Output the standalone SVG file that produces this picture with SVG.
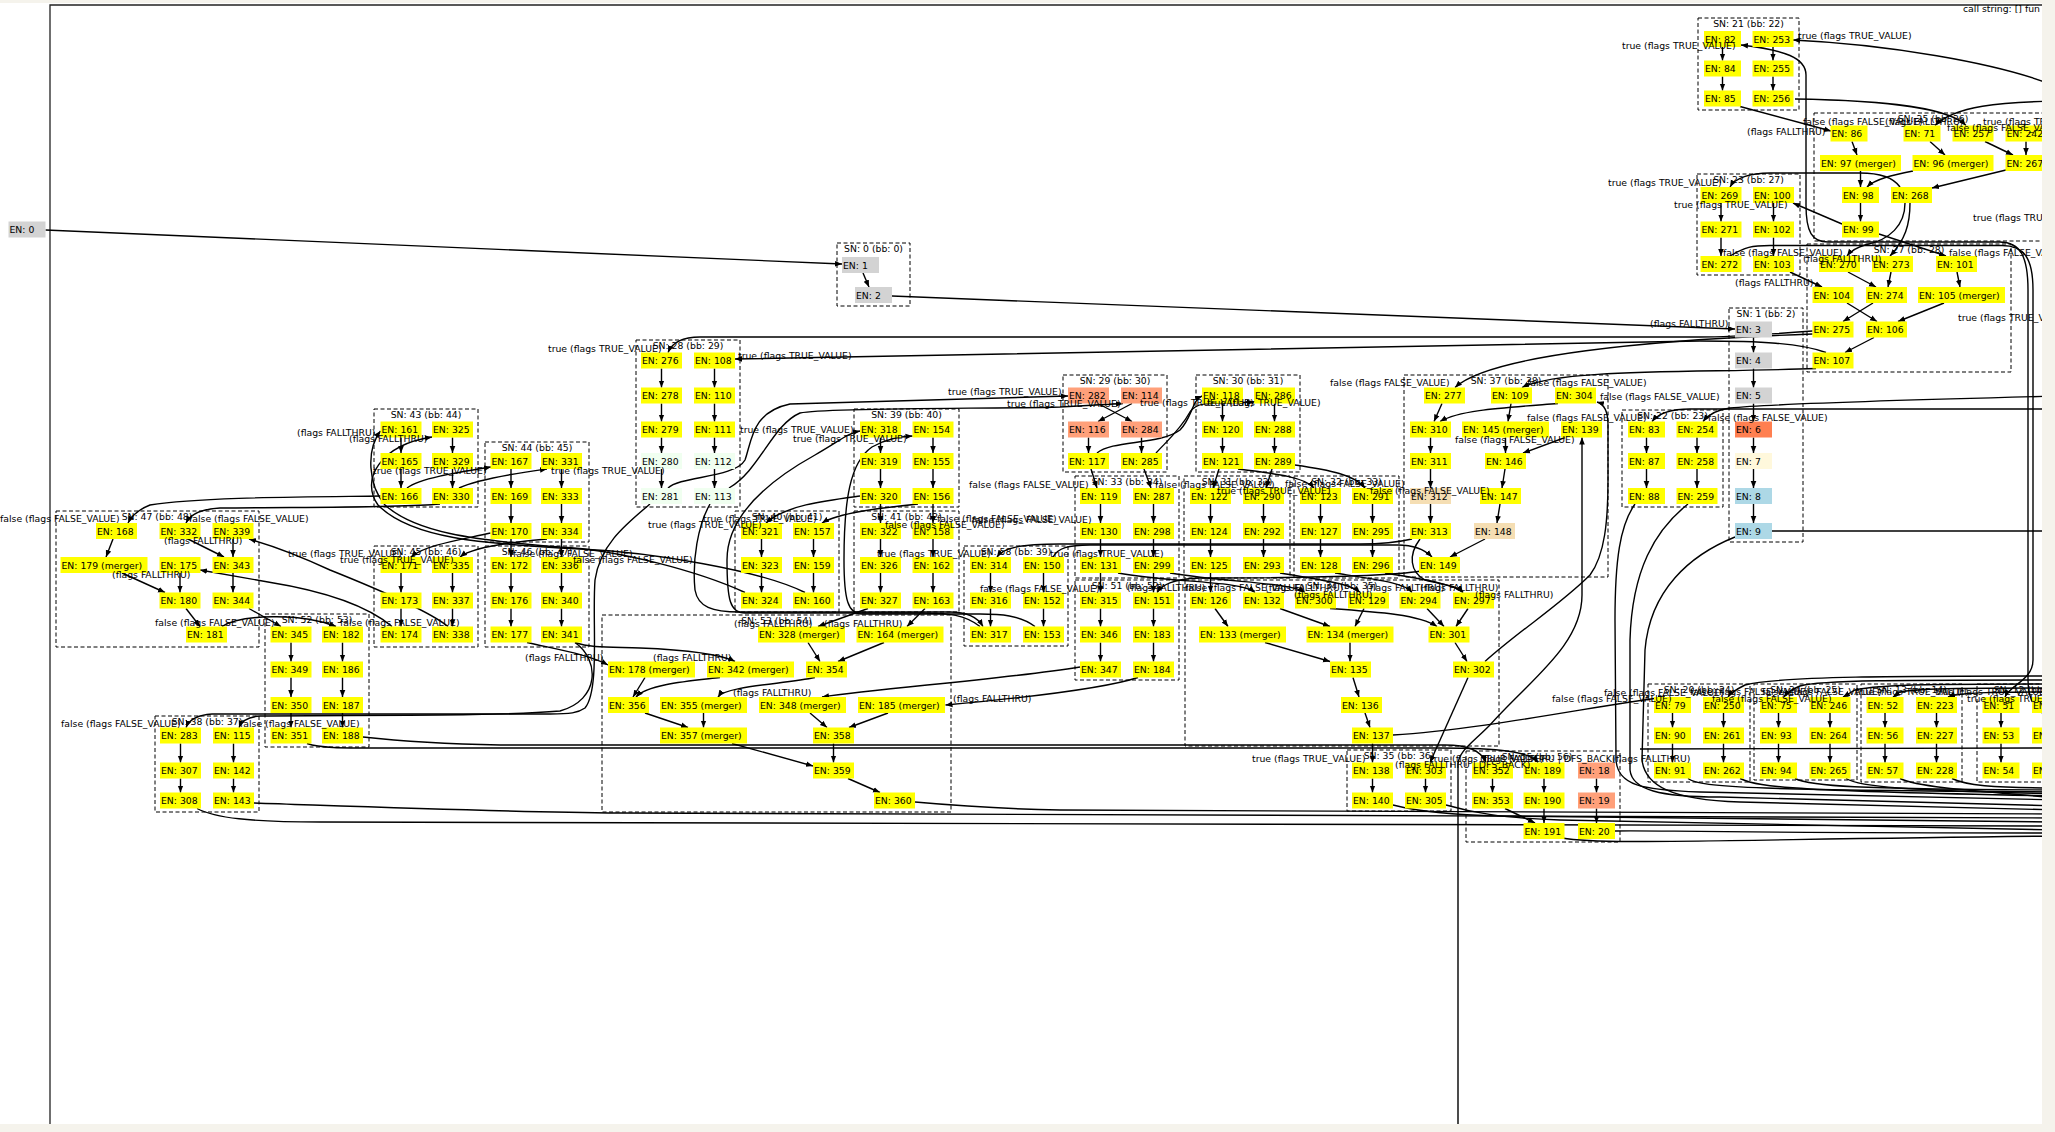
<svg xmlns="http://www.w3.org/2000/svg" width="2055" height="1132" viewBox="0 0 2055 1132">
<defs>
<marker id="a" viewBox="0 0 10 10" refX="10" refY="5" markerWidth="7" markerHeight="7" markerUnits="userSpaceOnUse" orient="auto"><path d="M0,1 L10,5 L0,9 z" fill="#000"/></marker>
<style>
text{font-family:"DejaVu Sans",Verdana,sans-serif;font-size:9.3px;fill:#000}
.cl{fill:none;stroke:#000;stroke-width:1;stroke-dasharray:4,2.5}
.ct{text-anchor:middle}
.y{fill:#ffff00}.g{fill:#d3d3d3}.c{fill:#ff7f50}.s{fill:#ffa07a}.w{fill:#f5deb3}.h{fill:#f0fff0}.k{fill:#fff8dc}.b{fill:#add8e6}
#edges path{fill:none;stroke:#000;stroke-width:1.4;marker-end:url(#a)}
#edges path.n{marker-end:none}
</style>
</defs>
<rect width="2055" height="1132" fill="#f5f3ec"/>
<rect x="0" y="3" width="2042" height="1121" fill="#fff"/>
<path d="M50,1124 L50,5 L2050,5" fill="none" stroke="#222" stroke-width="1.3"/>
<text x="1963" y="12">call string: [] fun</text>

<g id="clusters">
<g id="c0"><rect class="cl" x="837" y="243" width="73" height="63"/><text class="ct" x="873.5" y="251.5">SN: 0 (bb: 0)</text></g>
<g id="c1"><rect class="cl" x="1729" y="308" width="74" height="234"/><text class="ct" x="1766" y="316.5">SN: 1 (bb: 2)</text></g>
<g id="c21"><rect class="cl" x="1698" y="18" width="101" height="92"/><text class="ct" x="1748.5" y="26.5">SN: 21 (bb: 22)</text></g>
<g id="c25"><rect class="cl" x="1814" y="113" width="260" height="128"/><text class="ct" x="1933" y="121.5">SN: 25 (bb: 26)</text></g>
<g id="c23"><rect class="cl" x="1697" y="174" width="103" height="101"/><text class="ct" x="1748.5" y="182.5">SN: 23 (bb: 27)</text></g>
<g id="c27"><rect class="cl" x="1807" y="244" width="204" height="128"/><text class="ct" x="1909" y="252.5">SN: 27 (bb: 28)</text></g>
<g id="c22"><rect class="cl" x="1622" y="410" width="101" height="97"/><text class="ct" x="1672.5" y="418.5">SN: 22 (bb: 23)</text></g>
<g id="c37"><rect class="cl" x="1404" y="375" width="204" height="202"/><text class="ct" x="1506" y="383.5">SN: 37 (bb: 38)</text></g>
<g id="c29"><rect class="cl" x="1063" y="375" width="104" height="97"/><text class="ct" x="1115" y="383.5">SN: 29 (bb: 30)</text></g>
<g id="c30"><rect class="cl" x="1196" y="375" width="104" height="97"/><text class="ct" x="1248" y="383.5">SN: 30 (bb: 31)</text></g>
<g id="c33"><rect class="cl" x="1075" y="476" width="104" height="102"/><text class="ct" x="1127" y="484.5">SN: 33 (bb: 34)</text></g>
<g id="c31"><rect class="cl" x="1184" y="476" width="106" height="102"/><text class="ct" x="1237" y="484.5">SN: 31 (bb: 32)</text></g>
<g id="c32"><rect class="cl" x="1294" y="476" width="105" height="102"/><text class="ct" x="1346.5" y="484.5">SN: 32 (bb: 33)</text></g>
<g id="c51"><rect class="cl" x="1075" y="580" width="104" height="100"/><text class="ct" x="1127" y="588.5">SN: 51 (bb: 52)</text></g>
<g id="c34"><rect class="cl" x="1185" y="580" width="314" height="166"/><text class="ct" x="1342" y="588.5">SN: 34 (bb: 35)</text></g>
<g id="c35"><rect class="cl" x="1347" y="750" width="104" height="61"/><text class="ct" x="1399" y="758.5">SN: 35 (bb: 36)</text></g>
<g id="c55"><rect class="cl" x="1466" y="751" width="154" height="91"/><text class="ct" x="1537" y="759.5">SN: 55 (bb: 56)</text></g>
<g id="cbr1"><rect class="cl" x="1648" y="684" width="102" height="98"/><text class="ct" x="1699" y="692.5">SN: 20 (bb: 24)</text></g>
<g id="cbr2"><rect class="cl" x="1754" y="684" width="103" height="96"/><text class="ct" x="1805.5" y="692.5">SN: 24 (bb: 25)</text></g>
<g id="cbr3"><rect class="cl" x="1861" y="684" width="101" height="98"/><text class="ct" x="1911.5" y="692.5">SN: 13 (bb: 14)</text></g>
<g id="cbr4"><rect class="cl" x="1977" y="684" width="100" height="98"/><text class="ct" x="2029" y="692.5">SN: 12 (bb: 13)</text></g>
<g id="c28"><rect class="cl" x="636" y="340" width="104" height="167"/><text class="ct" x="688" y="348.5">SN: 28 (bb: 29)</text></g>
<g id="c39"><rect class="cl" x="854" y="409" width="105" height="98"/><text class="ct" x="906.5" y="417.5">SN: 39 (bb: 40)</text></g>
<g id="c40"><rect class="cl" x="735" y="511" width="104" height="101"/><text class="ct" x="787" y="519.5">SN: 40 (bb: 41)</text></g>
<g id="c41"><rect class="cl" x="854" y="511" width="105" height="101"/><text class="ct" x="906.5" y="519.5">SN: 41 (bb: 42)</text></g>
<g id="c58"><rect class="cl" x="964" y="546" width="104" height="100"/><text class="ct" x="1016" y="554.5">SN: 58 (bb: 39)</text></g>
<g id="c53"><rect class="cl" x="602" y="615" width="349" height="197"/><text class="ct" x="776.5" y="623.5">SN: 53 (bb: 54)</text></g>
<g id="c43"><rect class="cl" x="374" y="409" width="104" height="98"/><text class="ct" x="426" y="417.5">SN: 43 (bb: 44)</text></g>
<g id="c44"><rect class="cl" x="485" y="442" width="104" height="100"/><text class="ct" x="537" y="450.5">SN: 44 (bb: 45)</text></g>
<g id="c45"><rect class="cl" x="374" y="546" width="104" height="101"/><text class="ct" x="426" y="554.5">SN: 45 (bb: 46)</text></g>
<g id="c46"><rect class="cl" x="485" y="546" width="104" height="101"/><text class="ct" x="537" y="554.5">SN: 46 (bb: 47)</text></g>
<g id="c47"><rect class="cl" x="56" y="511" width="203" height="136"/><text class="ct" x="157" y="519.5">SN: 47 (bb: 48)</text></g>
<g id="c52"><rect class="cl" x="265" y="614" width="104" height="133"/><text class="ct" x="317" y="622.5">SN: 52 (bb: 53)</text></g>
<g id="c38"><rect class="cl" x="155" y="716" width="104" height="96"/><text class="ct" x="207" y="724.5">SN: 38 (bb: 37)</text></g>
</g>

<g id="edges">
<path d="M45.5,230 L842,264"/>
<path d="M863,273 L869,287"/>
<path d="M892,296 L1735,329"/>
<path d="M1753.5,337.5 L1753.5,352.5"/><path d="M1753.5,368.5 L1753.5,387.5"/><path d="M1753.5,403.5 L1753.5,421.5"/><path d="M1753.5,437.5 L1753.5,453"/><path d="M1753.5,469 L1753.5,488"/><path d="M1753.5,504 L1753.5,523"/>
<path d="M1722.5,47 L1722.5,60.5"/><path d="M1722.5,76.5 L1722.5,90.5"/><path d="M1773,47 L1773,60.5"/><path d="M1773,76.5 L1773,90.5"/>
<path d="M1721,203 L1721,221.5"/><path d="M1721,237.5 L1721,256"/><path d="M1773.5,203 L1773.5,221.5"/><path d="M1773.5,237.5 L1773.5,256"/>
<path d="M1740,106.5 L1831,131"/>
<path d="M1795,99 C1860,100 1945,104 1966,125.5"/>
<path d="M2060,101 C2000,102 1955,106 1935,125.5"/>
<path d="M2060,88 C2000,62 1880,44 1793,40"/>
<path d="M2060,720 C2035,715 2028,700 2028,680 L2028,290 C2028,256 2020,242 2000,242 L1828,242 C1812,242 1806,232 1806,205 L1806,75 C1806,58 1785,50 1741,45"/>
<path d="M1730,256 C1745,247 1752,245.5 1770,245.5 L2002,245.5 C2024,245.5 2033,258 2033,290 L2033,660 C2033,680 2010,685 2005,697"/>
<path d="M1852,141.5 L1857,155"/><path d="M1930,141.5 L1945,155"/><path d="M1985,141.5 L2013,155"/><path d="M2026,141.5 L2026,155"/>
<path d="M1860.5,171 L1860.5,187"/>
<path d="M1913,171 C1893,175 1875,179 1867,187"/>
<path d="M2006,170 L1932,188"/>
<path d="M1900,187 C1893,177 1880,173 1860,173 L1770,173 C1750,173 1735,178 1730,187"/>
<path d="M1910,203 C1910,225 1905,240 1890,256"/>
<path d="M1905,203 C1905,225 1890,240 1865,245 C1855,248 1850,252 1847,256"/>
<path d="M1860.5,203 L1860.5,221.5"/>
<path d="M1842,224 L1793,203"/>
<path d="M1879,234 L1946,256"/>
<path d="M1790,272 L1822,287"/><path d="M1848,272 L1876,287"/><path d="M1891,272 L1888,287"/><path d="M1957,272 L1960,287"/>
<path d="M1847,303 L1877,321.5"/><path d="M1873,303 L1843,321.5"/><path d="M1944,303 L1898,321.5"/><path d="M1874,337.5 L1845,352.5"/>
<path d="M1812.5,331 C1760,335 1730,337 1700,337 L700,337 C682,337 672,343 668,352.5"/>
<path d="M1826,352.5 C1800,343 1760,341 1700,341 L735,359"/>
<path d="M1812.5,334 C1650,340 1490,355 1455,387.5"/>
<path d="M1816,368.5 C1700,373 1560,368 1522,387.5"/>
<path d="M1646.5,437.5 L1646.5,453"/><path d="M1646.5,469 L1646.5,488"/><path d="M1697,437.5 L1697,453"/><path d="M1697,469 L1697,488"/>
<path d="M2060,396 C1900,400 1760,405 1730,408 C1715,410 1708,415 1703,421.5"/>
<path d="M2060,409 L1690,409 C1670,409 1658,414 1652,421.5"/>
<path d="M1772,531 L2060,531"/>
<path d="M1442,403.5 L1434,421.5"/>
<path d="M1558,403.5 C1500,408 1460,410 1440,421.5"/>
<path d="M1511,403.5 L1508,421.5"/>
<path d="M1565,437.5 L1523,453"/>
<path d="M1505.5,437.5 L1505.5,453"/>
<path d="M1505,469 L1502,488"/><path d="M1500,504 L1497,523"/><path d="M1485,539 L1450,557"/>
<path d="M1430.5,437.5 L1430.5,453"/><path d="M1430.5,469 L1430.5,488"/><path d="M1430.5,504 L1430.5,523"/>
<path d="M1053,557 C1058,548 1068,545 1090,545 L1398,545 C1415,545 1425,550 1432,557"/>
<path d="M1412,539 C1395,543 1380,544 1360,544 L1060,544 C1020,544 1003,548 997,557"/>
<path d="M1421,571 C1390,576 1300,578 1200,578 C1172,579 1162,585 1157,592.5"/>
<path d="M1420,539 C1408,555 1410,572 1425,580 C1445,585 1458,586 1463,592.5"/>
<path d="M1098,403.5 L1132,421.5"/><path d="M1132,403.5 L1098,421.5"/>
<path d="M1088.5,437.5 L1088.5,453"/><path d="M1141.5,437.5 L1141.5,453"/>
<path d="M668,488 C680,476 735,478 745,460 C752,440 752,412 790,404 L1068,396"/>
<path d="M729,488 C760,470 772,425 800,413 C830,407 1000,409 1060,407 L1123,403.5"/>
<path d="M1097,453 C1112,440 1160,445 1180,430 C1192,418 1192,400 1202,396"/>
<path d="M1156,453 C1168,440 1180,430 1190,412 C1198,400 1215,404 1254,402"/>
<path d="M1091,469 L1097,488"/><path d="M1144,469 L1151,488"/>
<path d="M1222.5,403.5 L1222.5,421.5"/><path d="M1222.5,437.5 L1222.5,453"/><path d="M1274.5,403.5 L1274.5,421.5"/><path d="M1274.5,437.5 L1274.5,453"/>
<path d="M1219,469 L1213,488"/>
<path d="M1238,469 C1280,474 1306,478 1314,488"/>
<path d="M1272,469 L1266,488"/>
<path d="M1295,465 C1330,470 1355,475 1365,488"/>
<path d="M1100.5,504 L1100.5,523"/><path d="M1100.5,539 L1100.5,557"/><path d="M1153.5,504 L1153.5,523"/><path d="M1153.5,539 L1153.5,557"/>
<path d="M1210.5,504 L1210.5,523"/><path d="M1210.5,539 L1210.5,557"/><path d="M1263.5,504 L1263.5,523"/><path d="M1263.5,539 L1263.5,557"/>
<path d="M1320.5,504 L1320.5,523"/><path d="M1320.5,539 L1320.5,557"/><path d="M1372.5,504 L1372.5,523"/><path d="M1372.5,539 L1372.5,557"/>
<path d="M1100.5,573 L1100.5,592.5"/>
<path d="M1118,573 C1170,583 1240,580 1255,592.5"/>
<path d="M1170,573 C1230,583 1290,582 1305,592.5"/>
<path d="M1153.5,573 L1153.5,592.5"/>
<path d="M1210.5,573 L1210.5,592.5"/>
<path d="M1280,573 C1320,580 1350,583 1360,592.5"/>
<path d="M1335,573 C1380,580 1405,583 1412,592.5"/>
<path d="M1385,573 C1430,580 1455,585 1463,592.5"/>
<path d="M1100.5,608.5 L1100.5,626.5"/><path d="M1100.5,642.5 L1100.5,661.5"/><path d="M1153.5,608.5 L1153.5,626.5"/><path d="M1153.5,642.5 L1153.5,661.5"/>
<path d="M1215,608.5 L1228,626.5"/>
<path d="M1280,608.5 L1330,626.5"/>
<path d="M1330,608.5 C1380,612 1420,615 1437,626.5"/>
<path d="M1364,608.5 L1355,626.5"/>
<path d="M1427,608.5 L1444,626.5"/>
<path d="M1468,608.5 L1456,626.5"/>
<path d="M1265,642.5 L1330,661.5"/>
<path d="M1350,642.5 L1350,661.5"/>
<path d="M1455,642.5 L1467,661.5"/>
<path d="M1353,677.5 L1359,697"/>
<path d="M1365,713 L1370,727.5"/>
<path d="M1372.5,743.5 L1372.5,762.5"/>
<path d="M1372.5,778.5 L1372.5,792.5"/><path d="M1425.5,778.5 L1425.5,792.5"/>
<path d="M1468,677.5 L1430,762.5"/>
<path d="M1485,661.5 C1520,630 1560,605 1590,575 C1605,555 1608,520 1608,480 L1608,425 C1608,410 1604,404 1597,402"/>
<path d="M1458,1132 L1458,765 C1458,752 1470,745 1490,725 C1530,680 1582,645 1582,595 L1582,437.5"/>
<path d="M1492.5,778.5 L1492.5,792.5"/><path d="M1544,778.5 L1544,792.5"/><path d="M1544,808.5 L1544,823"/><path d="M1596.5,778.5 L1596.5,792.5"/><path d="M1596.5,808.5 L1596.5,823"/>
<path d="M1505,808.5 L1535,823"/>
<path d="M1393,735 C1480,730 1600,705 1665,697"/>
<path d="M2060,676 C1900,676 1780,676 1745,685 C1735,690 1730,694 1728,697"/>
<path d="M2060,680 C1900,680 1820,680 1800,686 C1790,690 1786,694 1784,697"/>
<path d="M2060,684 C1950,684 1880,684 1855,690 L1843,697"/>
<path d="M2060,688 C1980,688 1920,688 1900,692 L1893,697"/>
<path d="M2060,692 C2000,692 1960,692 1948,697"/>
<path d="M1672.5,713 L1672.5,727.5"/><path d="M1672.5,743.5 L1672.5,762.5"/><path d="M1723.5,713 L1723.5,727.5"/><path d="M1723.5,743.5 L1723.5,762.5"/>
<path d="M1778.5,713 L1778.5,727.5"/><path d="M1778.5,743.5 L1778.5,762.5"/><path d="M1830,713 L1830,727.5"/><path d="M1830,743.5 L1830,762.5"/>
<path d="M1885,713 L1885,727.5"/><path d="M1885,743.5 L1885,762.5"/><path d="M1936.5,713 L1936.5,727.5"/><path d="M1936.5,743.5 L1936.5,762.5"/>
<path d="M2001,713 L2001,727.5"/><path d="M2001,743.5 L2001,762.5"/>
<path class="n" d="M1688,778.5 C1700,788 1760,790 2060,792"/>
<path class="n" d="M1740,778.5 C1760,788 1800,791 2060,796"/>
<path class="n" d="M1795,778.5 C1810,786 1850,789 2060,790"/>
<path class="n" d="M1846,778.5 C1860,787 1900,790 2060,794"/>
<path class="n" d="M1900,778.5 C1915,786 1950,789 2060,798"/>
<path class="n" d="M1952,778.5 C1965,785 1990,788 2060,788"/>
<path class="n" d="M1635,504 C1620,525 1615,560 1615,620 L1616,760 C1618,785 1640,790 1700,792 L2060,800"/>
<path class="n" d="M1688,504 C1655,530 1632,570 1630,640 L1630,770 C1632,790 1660,797 1720,797 L2060,806"/>
<path class="n" d="M1735,537 C1690,555 1650,590 1645,650 L1642,760 C1645,785 1670,800 1740,802 L2060,810"/>
<path class="n" d="M1640,749 L2060,748"/>
<path d="M661.5,368.5 L661.5,387.5"/><path d="M661.5,403.5 L661.5,421.5"/><path d="M661.5,437.5 L661.5,453"/><path d="M661.5,469 L661.5,488"/>
<path d="M714.5,368.5 L714.5,387.5"/><path d="M714.5,403.5 L714.5,421.5"/><path d="M714.5,437.5 L714.5,453"/><path d="M714.5,469 L714.5,488"/>
<path d="M880.5,437.5 L880.5,453"/><path d="M880.5,469 L880.5,488"/><path d="M933,437.5 L933,453"/><path d="M933,469 L933,488"/>
<path d="M880.5,504 L880.5,523"/><path d="M933,504 L933,523"/>
<path d="M860,496 C830,500 785,505 766,523"/>
<path d="M918,504 C880,508 838,513 822,523"/>
<path d="M761.5,539 L761.5,557"/><path d="M761.5,573 L761.5,592.5"/><path d="M813.5,539 L813.5,557"/><path d="M813.5,573 L813.5,592.5"/>
<path d="M880.5,539 L880.5,557"/><path d="M880.5,573 L880.5,592.5"/><path d="M933,539 L933,557"/><path d="M933,573 L933,592.5"/>
<path d="M990.5,573 L990.5,592.5"/><path d="M990.5,608.5 L990.5,626.5"/><path d="M1043.5,573 L1043.5,592.5"/><path d="M1043.5,608.5 L1043.5,626.5"/>
<path d="M980,626.5 C965,615 950,613 920,613 L745,613 C730,613 727,600 727,560 C727,515 770,480 815,455 C838,442 848,433 860,431"/>
<path d="M1035,626.5 C1020,615 1000,614 980,614 L862,614 C848,614 844,600 844,560 C844,500 850,462 872,447 C888,438 900,437 912.5,436"/>
<path d="M710,504 C698,525 692,560 695,590 C698,607 712,612 740,612 L950,612 C968,612 978,618 983,626.5"/>
<path d="M868,608.5 L818,626.5"/>
<path d="M925,608.5 L907,626.5"/>
<path d="M808,642.5 L820,661.5"/>
<path d="M884,642.5 L838,661.5"/>
<path d="M645,677.5 L633,697"/>
<path d="M720,677.5 C690,681 648,684 636,697"/>
<path d="M815,677.5 C785,684 725,686 718,697"/>
<path d="M1080,667 C1000,680 880,688 822,697"/>
<path d="M1138,677.5 C1100,690 1000,700 945.5,705"/>
<path d="M645,713 L688,727.5"/>
<path d="M703.5,713 L703.5,727.5"/>
<path d="M810,713 L827,727.5"/>
<path d="M888,713 L849,727.5"/>
<path d="M732,743.5 L813,766"/>
<path d="M833.5,743.5 L833.5,762.5"/>
<path d="M848,778.5 L880,792.5"/>
<path d="M527,642.5 C560,650 590,655 608,665"/>
<path d="M575,642.5 C590,648 610,647 640,648 C690,650 722,655 735,661.5"/>
<path d="M401,437.5 L401,453"/><path d="M401,469 L401,488"/><path d="M452.5,437.5 L452.5,453"/><path d="M452.5,469 L452.5,488"/>
<path d="M511,469 L511,488"/><path d="M511,504 L511,523"/><path d="M561.5,469 L561.5,488"/><path d="M561.5,504 L561.5,523"/>
<path d="M511,539 L511,557"/><path d="M561.5,539 L561.5,557"/>
<path d="M401,573 L401,592.5"/><path d="M401,608.5 L401,626.5"/><path d="M452.5,573 L452.5,592.5"/><path d="M452.5,608.5 L452.5,626.5"/>
<path d="M511,573 L511,592.5"/><path d="M511,608.5 L511,626.5"/><path d="M561.5,573 L561.5,592.5"/><path d="M561.5,608.5 L561.5,626.5"/>
<path d="M407,488 C420,478 460,472 491,467"/>
<path d="M459,488 C480,478 525,472 547,469"/>
<path d="M380.5,496 C300,497 200,497 150,505 C140,509 132,515 128,523"/>
<path d="M440,504 C400,508 300,507 220,508 C200,509 190,515 186,523"/>
<path d="M490.5,533 C460,540 425,545 411,557"/>
<path d="M547,539 C500,543 470,549 460,557"/>
<path d="M745,592.5 C700,572 620,550 560,547 C470,540 415,532 385,505 C368,485 366,450 380.5,431"/>
<path d="M805,592.5 C760,570 650,552 580,549 C480,544 410,538 378,505 C360,480 380,445 432,437"/>
<path d="M113,539 L106,557"/>
<path d="M188,539 L224,557"/>
<path d="M233,539 L233,557"/>
<path d="M233,573 L233,592.5"/>
<path d="M180,573 L180,592.5"/>
<path d="M122,573 L165,592.5"/>
<path d="M186,608.5 L200,626.5"/>
<path d="M249,608.5 L281,626.5"/>
<path d="M222,626.5 C240,615 300,612 336,626.5"/>
<path d="M392,626.5 C370,608 330,592 268,582 L200,570"/>
<path d="M448,626.5 C430,612 380,590 330,570 C300,556 270,545 249,539"/>
<path d="M291,642.5 L291,661.5"/><path d="M291,677.5 L291,697"/><path d="M291,713 L291,727.5"/>
<path d="M342.5,642.5 L342.5,661.5"/><path d="M342.5,677.5 L342.5,697"/><path d="M342.5,713 L342.5,727.5"/>
<path d="M180.5,743.5 L180.5,762.5"/><path d="M180.5,778.5 L180.5,792.5"/><path d="M233.5,743.5 L233.5,762.5"/><path d="M233.5,778.5 L233.5,792.5"/>
<path d="M650,504 C625,525 600,545 595,580 C592,620 600,690 585,708 C578,713 570,714 550,714 L212,714 C196,715 189,720 186,727.5"/>
<path d="M575,642.5 C600,660 600,700 560,711 C500,716 400,715 260,716 C247,717 241,722 239,727.5"/>
<path d="M307,743.5 C320,748 340,748 380,748 L1440,748 C1500,748 1530,752 1538,762.5"/>
<path d="M363,737 C400,741 450,744 500,745 L1445,745 C1470,745 1482,752 1486,762.5"/>
<path class="n" d="M254,803 C400,808 500,812 620,813 L2060,818"/>
<path class="n" d="M197,808.5 C215,818 250,822 320,822 L2060,826"/>
<path class="n" d="M915,802 C960,806 1000,809 1060,810 L2060,814"/>
<path class="n" d="M1393,805 C1420,812 1450,815 1500,816 L2060,822"/>
<path class="n" d="M1446,805 C1470,812 1500,818 1560,820 L2060,830"/>
<path class="n" d="M1562,838 C1600,845 1700,840 2060,836"/>
<path class="n" d="M1615,831 C1650,830 1700,833 2060,833"/>
</g>

<g id="nodes">
<g id="en0"><rect class="g" x="8.5" y="221.5" width="37" height="16"/><text x="9.5" y="233">EN: 0</text></g>
<g id="en1"><rect class="g" x="842" y="257" width="37" height="16"/><text x="843" y="268.5">EN: 1</text></g>
<g id="en2"><rect class="g" x="855" y="287" width="37" height="16"/><text x="856" y="298.5">EN: 2</text></g>
<g id="en3"><rect class="g" x="1735" y="321.5" width="37" height="16"/><text x="1736" y="333">EN: 3</text></g>
<g id="en4"><rect class="g" x="1735" y="352.5" width="37" height="16"/><text x="1736" y="364">EN: 4</text></g>
<g id="en5"><rect class="g" x="1735" y="387.5" width="37" height="16"/><text x="1736" y="399">EN: 5</text></g>
<g id="en6"><rect class="c" x="1735" y="421.5" width="37" height="16"/><text x="1736" y="433">EN: 6</text></g>
<g id="en7"><rect class="k" x="1735" y="453" width="37" height="16"/><text x="1736" y="464.5">EN: 7</text></g>
<g id="en8"><rect class="b" x="1735" y="488" width="37" height="16"/><text x="1736" y="499.5">EN: 8</text></g>
<g id="en9"><rect class="b" x="1735" y="523" width="37" height="16"/><text x="1736" y="534.5">EN: 9</text></g>
<g id="en82"><rect class="y" x="1704" y="31" width="37" height="16"/><text x="1705" y="42.5">EN: 82</text></g>
<g id="en253"><rect class="y" x="1752.5" y="31" width="41" height="16"/><text x="1753.5" y="42.5">EN: 253</text></g>
<g id="en84"><rect class="y" x="1704" y="60.5" width="37" height="16"/><text x="1705" y="72">EN: 84</text></g>
<g id="en255"><rect class="y" x="1752.5" y="60.5" width="41" height="16"/><text x="1753.5" y="72">EN: 255</text></g>
<g id="en85"><rect class="y" x="1704" y="90.5" width="37" height="16"/><text x="1705" y="102">EN: 85</text></g>
<g id="en256"><rect class="y" x="1752.5" y="90.5" width="41" height="16"/><text x="1753.5" y="102">EN: 256</text></g>
<g id="en86"><rect class="y" x="1830.5" y="125.5" width="37" height="16"/><text x="1831.5" y="137">EN: 86</text></g>
<g id="en71"><rect class="y" x="1903.5" y="125.5" width="37" height="16"/><text x="1904.5" y="137">EN: 71</text></g>
<g id="en257"><rect class="y" x="1952.5" y="125.5" width="41" height="16"/><text x="1953.5" y="137">EN: 257</text></g>
<g id="en242"><rect class="y" x="2005.5" y="125.5" width="41" height="16"/><text x="2006.5" y="137">EN: 242</text></g>
<g id="en97"><rect class="y" x="1820" y="155" width="81" height="16"/><text x="1821" y="166.5">EN: 97 (merger)</text></g>
<g id="en96"><rect class="y" x="1912.5" y="155" width="81" height="16"/><text x="1913.5" y="166.5">EN: 96 (merger)</text></g>
<g id="en267"><rect class="y" x="2005.5" y="155" width="41" height="16"/><text x="2006.5" y="166.5">EN: 267</text></g>
<g id="en98"><rect class="y" x="1842" y="187" width="37" height="16"/><text x="1843" y="198.5">EN: 98</text></g>
<g id="en268"><rect class="y" x="1891" y="187" width="41" height="16"/><text x="1892" y="198.5">EN: 268</text></g>
<g id="en99"><rect class="y" x="1842" y="221.5" width="37" height="16"/><text x="1843" y="233">EN: 99</text></g>
<g id="en269"><rect class="y" x="1700.5" y="187" width="41" height="16"/><text x="1701.5" y="198.5">EN: 269</text></g>
<g id="en100"><rect class="y" x="1753" y="187" width="41" height="16"/><text x="1754" y="198.5">EN: 100</text></g>
<g id="en271"><rect class="y" x="1700.5" y="221.5" width="41" height="16"/><text x="1701.5" y="233">EN: 271</text></g>
<g id="en102"><rect class="y" x="1753" y="221.5" width="41" height="16"/><text x="1754" y="233">EN: 102</text></g>
<g id="en272"><rect class="y" x="1700.5" y="256" width="41" height="16"/><text x="1701.5" y="267.5">EN: 272</text></g>
<g id="en103"><rect class="y" x="1753" y="256" width="41" height="16"/><text x="1754" y="267.5">EN: 103</text></g>
<g id="en270"><rect class="y" x="1819" y="256" width="41" height="16"/><text x="1820" y="267.5">EN: 270</text></g>
<g id="en273"><rect class="y" x="1872" y="256" width="41" height="16"/><text x="1873" y="267.5">EN: 273</text></g>
<g id="en101"><rect class="y" x="1936" y="256" width="41" height="16"/><text x="1937" y="267.5">EN: 101</text></g>
<g id="en104"><rect class="y" x="1812.5" y="287" width="41" height="16"/><text x="1813.5" y="298.5">EN: 104</text></g>
<g id="en274"><rect class="y" x="1866" y="287" width="41" height="16"/><text x="1867" y="298.5">EN: 274</text></g>
<g id="en105"><rect class="y" x="1918" y="287" width="87" height="16"/><text x="1919" y="298.5">EN: 105 (merger)</text></g>
<g id="en275"><rect class="y" x="1812.5" y="321.5" width="41" height="16"/><text x="1813.5" y="333">EN: 275</text></g>
<g id="en106"><rect class="y" x="1866" y="321.5" width="41" height="16"/><text x="1867" y="333">EN: 106</text></g>
<g id="en107"><rect class="y" x="1812.5" y="352.5" width="41" height="16"/><text x="1813.5" y="364">EN: 107</text></g>
<g id="en83"><rect class="y" x="1628" y="421.5" width="37" height="16"/><text x="1629" y="433">EN: 83</text></g>
<g id="en254"><rect class="y" x="1676.5" y="421.5" width="41" height="16"/><text x="1677.5" y="433">EN: 254</text></g>
<g id="en87"><rect class="y" x="1628" y="453" width="37" height="16"/><text x="1629" y="464.5">EN: 87</text></g>
<g id="en258"><rect class="y" x="1676.5" y="453" width="41" height="16"/><text x="1677.5" y="464.5">EN: 258</text></g>
<g id="en88"><rect class="y" x="1628" y="488" width="37" height="16"/><text x="1629" y="499.5">EN: 88</text></g>
<g id="en259"><rect class="y" x="1676.5" y="488" width="41" height="16"/><text x="1677.5" y="499.5">EN: 259</text></g>
<g id="en277"><rect class="y" x="1424" y="387.5" width="41" height="16"/><text x="1425" y="399">EN: 277</text></g>
<g id="en109"><rect class="y" x="1491" y="387.5" width="41" height="16"/><text x="1492" y="399">EN: 109</text></g>
<g id="en304"><rect class="y" x="1555" y="387.5" width="41" height="16"/><text x="1556" y="399">EN: 304</text></g>
<g id="en310"><rect class="y" x="1410" y="421.5" width="41" height="16"/><text x="1411" y="433">EN: 310</text></g>
<g id="en145"><rect class="y" x="1462" y="421.5" width="87" height="16"/><text x="1463" y="433">EN: 145 (merger)</text></g>
<g id="en139"><rect class="y" x="1561" y="421.5" width="41" height="16"/><text x="1562" y="433">EN: 139</text></g>
<g id="en311"><rect class="y" x="1410" y="453" width="41" height="16"/><text x="1411" y="464.5">EN: 311</text></g>
<g id="en146"><rect class="y" x="1485" y="453" width="41" height="16"/><text x="1486" y="464.5">EN: 146</text></g>
<g id="en312"><rect class="w" x="1410" y="488" width="41" height="16"/><text x="1411" y="499.5">EN: 312</text></g>
<g id="en147"><rect class="y" x="1480" y="488" width="41" height="16"/><text x="1481" y="499.5">EN: 147</text></g>
<g id="en313"><rect class="y" x="1410" y="523" width="41" height="16"/><text x="1411" y="534.5">EN: 313</text></g>
<g id="en148"><rect class="w" x="1474" y="523" width="41" height="16"/><text x="1475" y="534.5">EN: 148</text></g>
<g id="en149"><rect class="y" x="1419" y="557" width="41" height="16"/><text x="1420" y="568.5">EN: 149</text></g>
<g id="en282"><rect class="s" x="1068" y="387.5" width="41" height="16"/><text x="1069" y="399">EN: 282</text></g>
<g id="en114"><rect class="s" x="1121" y="387.5" width="41" height="16"/><text x="1122" y="399">EN: 114</text></g>
<g id="en116"><rect class="s" x="1068" y="421.5" width="41" height="16"/><text x="1069" y="433">EN: 116</text></g>
<g id="en284"><rect class="s" x="1121" y="421.5" width="41" height="16"/><text x="1122" y="433">EN: 284</text></g>
<g id="en117"><rect class="y" x="1068" y="453" width="41" height="16"/><text x="1069" y="464.5">EN: 117</text></g>
<g id="en285"><rect class="y" x="1121" y="453" width="41" height="16"/><text x="1122" y="464.5">EN: 285</text></g>
<g id="en118"><rect class="y" x="1202" y="387.5" width="41" height="16"/><text x="1203" y="399">EN: 118</text></g>
<g id="en286"><rect class="y" x="1254" y="387.5" width="41" height="16"/><text x="1255" y="399">EN: 286</text></g>
<g id="en120"><rect class="y" x="1202" y="421.5" width="41" height="16"/><text x="1203" y="433">EN: 120</text></g>
<g id="en288"><rect class="y" x="1254" y="421.5" width="41" height="16"/><text x="1255" y="433">EN: 288</text></g>
<g id="en121"><rect class="y" x="1202" y="453" width="41" height="16"/><text x="1203" y="464.5">EN: 121</text></g>
<g id="en289"><rect class="y" x="1254" y="453" width="41" height="16"/><text x="1255" y="464.5">EN: 289</text></g>
<g id="en119"><rect class="y" x="1080" y="488" width="41" height="16"/><text x="1081" y="499.5">EN: 119</text></g>
<g id="en287"><rect class="y" x="1133" y="488" width="41" height="16"/><text x="1134" y="499.5">EN: 287</text></g>
<g id="en130"><rect class="y" x="1080" y="523" width="41" height="16"/><text x="1081" y="534.5">EN: 130</text></g>
<g id="en298"><rect class="y" x="1133" y="523" width="41" height="16"/><text x="1134" y="534.5">EN: 298</text></g>
<g id="en131"><rect class="y" x="1080" y="557" width="41" height="16"/><text x="1081" y="568.5">EN: 131</text></g>
<g id="en299"><rect class="y" x="1133" y="557" width="41" height="16"/><text x="1134" y="568.5">EN: 299</text></g>
<g id="en122"><rect class="y" x="1190" y="488" width="41" height="16"/><text x="1191" y="499.5">EN: 122</text></g>
<g id="en290"><rect class="y" x="1243" y="488" width="41" height="16"/><text x="1244" y="499.5">EN: 290</text></g>
<g id="en124"><rect class="y" x="1190" y="523" width="41" height="16"/><text x="1191" y="534.5">EN: 124</text></g>
<g id="en292"><rect class="y" x="1243" y="523" width="41" height="16"/><text x="1244" y="534.5">EN: 292</text></g>
<g id="en125"><rect class="y" x="1190" y="557" width="41" height="16"/><text x="1191" y="568.5">EN: 125</text></g>
<g id="en293"><rect class="y" x="1243" y="557" width="41" height="16"/><text x="1244" y="568.5">EN: 293</text></g>
<g id="en123"><rect class="y" x="1300" y="488" width="41" height="16"/><text x="1301" y="499.5">EN: 123</text></g>
<g id="en291"><rect class="y" x="1352" y="488" width="41" height="16"/><text x="1353" y="499.5">EN: 291</text></g>
<g id="en127"><rect class="y" x="1300" y="523" width="41" height="16"/><text x="1301" y="534.5">EN: 127</text></g>
<g id="en295"><rect class="y" x="1352" y="523" width="41" height="16"/><text x="1353" y="534.5">EN: 295</text></g>
<g id="en128"><rect class="y" x="1300" y="557" width="41" height="16"/><text x="1301" y="568.5">EN: 128</text></g>
<g id="en296"><rect class="y" x="1352" y="557" width="41" height="16"/><text x="1353" y="568.5">EN: 296</text></g>
<g id="en315"><rect class="y" x="1080" y="592.5" width="41" height="16"/><text x="1081" y="604">EN: 315</text></g>
<g id="en151"><rect class="y" x="1133" y="592.5" width="41" height="16"/><text x="1134" y="604">EN: 151</text></g>
<g id="en346"><rect class="y" x="1080" y="626.5" width="41" height="16"/><text x="1081" y="638">EN: 346</text></g>
<g id="en183"><rect class="y" x="1133" y="626.5" width="41" height="16"/><text x="1134" y="638">EN: 183</text></g>
<g id="en347"><rect class="y" x="1080" y="661.5" width="41" height="16"/><text x="1081" y="673">EN: 347</text></g>
<g id="en184"><rect class="y" x="1133" y="661.5" width="41" height="16"/><text x="1134" y="673">EN: 184</text></g>
<g id="en126"><rect class="y" x="1190" y="592.5" width="41" height="16"/><text x="1191" y="604">EN: 126</text></g>
<g id="en132"><rect class="y" x="1243" y="592.5" width="41" height="16"/><text x="1244" y="604">EN: 132</text></g>
<g id="en300"><rect class="y" x="1295" y="592.5" width="41" height="16"/><text x="1296" y="604">EN: 300</text></g>
<g id="en129"><rect class="y" x="1348" y="592.5" width="41" height="16"/><text x="1349" y="604">EN: 129</text></g>
<g id="en294"><rect class="y" x="1399.5" y="592.5" width="41" height="16"/><text x="1400.5" y="604">EN: 294</text></g>
<g id="en297"><rect class="y" x="1453" y="592.5" width="41" height="16"/><text x="1454" y="604">EN: 297</text></g>
<g id="en133"><rect class="y" x="1199" y="626.5" width="87" height="16"/><text x="1200" y="638">EN: 133 (merger)</text></g>
<g id="en134"><rect class="y" x="1306.5" y="626.5" width="87" height="16"/><text x="1307.5" y="638">EN: 134 (merger)</text></g>
<g id="en301"><rect class="y" x="1428.5" y="626.5" width="41" height="16"/><text x="1429.5" y="638">EN: 301</text></g>
<g id="en135"><rect class="y" x="1330" y="661.5" width="41" height="16"/><text x="1331" y="673">EN: 135</text></g>
<g id="en302"><rect class="y" x="1453" y="661.5" width="41" height="16"/><text x="1454" y="673">EN: 302</text></g>
<g id="en136"><rect class="y" x="1341" y="697" width="41" height="16"/><text x="1342" y="708.5">EN: 136</text></g>
<g id="en137"><rect class="y" x="1352" y="727.5" width="41" height="16"/><text x="1353" y="739">EN: 137</text></g>
<g id="en138"><rect class="y" x="1352" y="762.5" width="41" height="16"/><text x="1353" y="774">EN: 138</text></g>
<g id="en303"><rect class="y" x="1405" y="762.5" width="41" height="16"/><text x="1406" y="774">EN: 303</text></g>
<g id="en140"><rect class="y" x="1352" y="792.5" width="41" height="16"/><text x="1353" y="804">EN: 140</text></g>
<g id="en305"><rect class="y" x="1405" y="792.5" width="41" height="16"/><text x="1406" y="804">EN: 305</text></g>
<g id="en352"><rect class="y" x="1472" y="762.5" width="41" height="16"/><text x="1473" y="774">EN: 352</text></g>
<g id="en189"><rect class="y" x="1523.5" y="762.5" width="41" height="16"/><text x="1524.5" y="774">EN: 189</text></g>
<g id="en18"><rect class="s" x="1578" y="762.5" width="37" height="16"/><text x="1579" y="774">EN: 18</text></g>
<g id="en353"><rect class="y" x="1472" y="792.5" width="41" height="16"/><text x="1473" y="804">EN: 353</text></g>
<g id="en190"><rect class="y" x="1523.5" y="792.5" width="41" height="16"/><text x="1524.5" y="804">EN: 190</text></g>
<g id="en19"><rect class="s" x="1578" y="792.5" width="37" height="16"/><text x="1579" y="804">EN: 19</text></g>
<g id="en191"><rect class="y" x="1523.5" y="823" width="41" height="16"/><text x="1524.5" y="834.5">EN: 191</text></g>
<g id="en20"><rect class="y" x="1578" y="823" width="37" height="16"/><text x="1579" y="834.5">EN: 20</text></g>
<g id="en79"><rect class="y" x="1654" y="697" width="37" height="16"/><text x="1655" y="708.5">EN: 79</text></g>
<g id="en250"><rect class="y" x="1703" y="697" width="41" height="16"/><text x="1704" y="708.5">EN: 250</text></g>
<g id="en90"><rect class="y" x="1654" y="727.5" width="37" height="16"/><text x="1655" y="739">EN: 90</text></g>
<g id="en261"><rect class="y" x="1703" y="727.5" width="41" height="16"/><text x="1704" y="739">EN: 261</text></g>
<g id="en91"><rect class="y" x="1654" y="762.5" width="37" height="16"/><text x="1655" y="774">EN: 91</text></g>
<g id="en262"><rect class="y" x="1703" y="762.5" width="41" height="16"/><text x="1704" y="774">EN: 262</text></g>
<g id="en75"><rect class="y" x="1760" y="697" width="37" height="16"/><text x="1761" y="708.5">EN: 75</text></g>
<g id="en246"><rect class="y" x="1809.5" y="697" width="41" height="16"/><text x="1810.5" y="708.5">EN: 246</text></g>
<g id="en93"><rect class="y" x="1760" y="727.5" width="37" height="16"/><text x="1761" y="739">EN: 93</text></g>
<g id="en264"><rect class="y" x="1809.5" y="727.5" width="41" height="16"/><text x="1810.5" y="739">EN: 264</text></g>
<g id="en94"><rect class="y" x="1760" y="762.5" width="37" height="16"/><text x="1761" y="774">EN: 94</text></g>
<g id="en265"><rect class="y" x="1809.5" y="762.5" width="41" height="16"/><text x="1810.5" y="774">EN: 265</text></g>
<g id="en52"><rect class="y" x="1866.5" y="697" width="37" height="16"/><text x="1867.5" y="708.5">EN: 52</text></g>
<g id="en223"><rect class="y" x="1916" y="697" width="41" height="16"/><text x="1917" y="708.5">EN: 223</text></g>
<g id="en56"><rect class="y" x="1866.5" y="727.5" width="37" height="16"/><text x="1867.5" y="739">EN: 56</text></g>
<g id="en227"><rect class="y" x="1916" y="727.5" width="41" height="16"/><text x="1917" y="739">EN: 227</text></g>
<g id="en57"><rect class="y" x="1866.5" y="762.5" width="37" height="16"/><text x="1867.5" y="774">EN: 57</text></g>
<g id="en228"><rect class="y" x="1916" y="762.5" width="41" height="16"/><text x="1917" y="774">EN: 228</text></g>
<g id="en51"><rect class="y" x="1982.5" y="697" width="37" height="16"/><text x="1983.5" y="708.5">EN: 51</text></g>
<g id="en53"><rect class="y" x="1982.5" y="727.5" width="37" height="16"/><text x="1983.5" y="739">EN: 53</text></g>
<g id="en54"><rect class="y" x="1982.5" y="762.5" width="37" height="16"/><text x="1983.5" y="774">EN: 54</text></g>
<g id="enx1"><rect class="y" x="2032" y="697" width="41" height="16"/><text x="2033" y="708.5">EN:</text></g>
<g id="enx2"><rect class="y" x="2032" y="727.5" width="41" height="16"/><text x="2033" y="739">EN:</text></g>
<g id="enx3"><rect class="y" x="2032" y="762.5" width="41" height="16"/><text x="2033" y="774">EN:</text></g>
<g id="en276"><rect class="y" x="641" y="352.5" width="41" height="16"/><text x="642" y="364">EN: 276</text></g>
<g id="en108"><rect class="y" x="694" y="352.5" width="41" height="16"/><text x="695" y="364">EN: 108</text></g>
<g id="en278"><rect class="y" x="641" y="387.5" width="41" height="16"/><text x="642" y="399">EN: 278</text></g>
<g id="en110"><rect class="y" x="694" y="387.5" width="41" height="16"/><text x="695" y="399">EN: 110</text></g>
<g id="en279"><rect class="y" x="641" y="421.5" width="41" height="16"/><text x="642" y="433">EN: 279</text></g>
<g id="en111"><rect class="y" x="694" y="421.5" width="41" height="16"/><text x="695" y="433">EN: 111</text></g>
<g id="en280"><rect class="h" x="641" y="453" width="41" height="16"/><text x="642" y="464.5">EN: 280</text></g>
<g id="en112"><rect class="h" x="694" y="453" width="41" height="16"/><text x="695" y="464.5">EN: 112</text></g>
<g id="en281"><rect class="h" x="641" y="488" width="41" height="16"/><text x="642" y="499.5">EN: 281</text></g>
<g id="en113"><rect class="h" x="694" y="488" width="41" height="16"/><text x="695" y="499.5">EN: 113</text></g>
<g id="en318"><rect class="y" x="860" y="421.5" width="41" height="16"/><text x="861" y="433">EN: 318</text></g>
<g id="en154"><rect class="y" x="912.5" y="421.5" width="41" height="16"/><text x="913.5" y="433">EN: 154</text></g>
<g id="en319"><rect class="y" x="860" y="453" width="41" height="16"/><text x="861" y="464.5">EN: 319</text></g>
<g id="en155"><rect class="y" x="912.5" y="453" width="41" height="16"/><text x="913.5" y="464.5">EN: 155</text></g>
<g id="en320"><rect class="y" x="860" y="488" width="41" height="16"/><text x="861" y="499.5">EN: 320</text></g>
<g id="en156"><rect class="y" x="912.5" y="488" width="41" height="16"/><text x="913.5" y="499.5">EN: 156</text></g>
<g id="en321"><rect class="y" x="741" y="523" width="41" height="16"/><text x="742" y="534.5">EN: 321</text></g>
<g id="en157"><rect class="y" x="793" y="523" width="41" height="16"/><text x="794" y="534.5">EN: 157</text></g>
<g id="en323"><rect class="y" x="741" y="557" width="41" height="16"/><text x="742" y="568.5">EN: 323</text></g>
<g id="en159"><rect class="y" x="793" y="557" width="41" height="16"/><text x="794" y="568.5">EN: 159</text></g>
<g id="en324"><rect class="y" x="741" y="592.5" width="41" height="16"/><text x="742" y="604">EN: 324</text></g>
<g id="en160"><rect class="y" x="793" y="592.5" width="41" height="16"/><text x="794" y="604">EN: 160</text></g>
<g id="en322"><rect class="y" x="860" y="523" width="41" height="16"/><text x="861" y="534.5">EN: 322</text></g>
<g id="en158"><rect class="y" x="912.5" y="523" width="41" height="16"/><text x="913.5" y="534.5">EN: 158</text></g>
<g id="en326"><rect class="y" x="860" y="557" width="41" height="16"/><text x="861" y="568.5">EN: 326</text></g>
<g id="en162"><rect class="y" x="912.5" y="557" width="41" height="16"/><text x="913.5" y="568.5">EN: 162</text></g>
<g id="en327"><rect class="y" x="860" y="592.5" width="41" height="16"/><text x="861" y="604">EN: 327</text></g>
<g id="en163"><rect class="y" x="912.5" y="592.5" width="41" height="16"/><text x="913.5" y="604">EN: 163</text></g>
<g id="en314"><rect class="y" x="970" y="557" width="41" height="16"/><text x="971" y="568.5">EN: 314</text></g>
<g id="en150"><rect class="y" x="1023" y="557" width="41" height="16"/><text x="1024" y="568.5">EN: 150</text></g>
<g id="en316"><rect class="y" x="970" y="592.5" width="41" height="16"/><text x="971" y="604">EN: 316</text></g>
<g id="en152"><rect class="y" x="1023" y="592.5" width="41" height="16"/><text x="1024" y="604">EN: 152</text></g>
<g id="en317"><rect class="y" x="970" y="626.5" width="41" height="16"/><text x="971" y="638">EN: 317</text></g>
<g id="en153"><rect class="y" x="1023" y="626.5" width="41" height="16"/><text x="1024" y="638">EN: 153</text></g>
<g id="en328"><rect class="y" x="758" y="626.5" width="87" height="16"/><text x="759" y="638">EN: 328 (merger)</text></g>
<g id="en164"><rect class="y" x="856.5" y="626.5" width="87" height="16"/><text x="857.5" y="638">EN: 164 (merger)</text></g>
<g id="en178"><rect class="y" x="608" y="661.5" width="87" height="16"/><text x="609" y="673">EN: 178 (merger)</text></g>
<g id="en342"><rect class="y" x="707" y="661.5" width="87" height="16"/><text x="708" y="673">EN: 342 (merger)</text></g>
<g id="en354"><rect class="y" x="806" y="661.5" width="41" height="16"/><text x="807" y="673">EN: 354</text></g>
<g id="en356"><rect class="y" x="608" y="697" width="41" height="16"/><text x="609" y="708.5">EN: 356</text></g>
<g id="en355"><rect class="y" x="660" y="697" width="87" height="16"/><text x="661" y="708.5">EN: 355 (merger)</text></g>
<g id="en348"><rect class="y" x="759" y="697" width="87" height="16"/><text x="760" y="708.5">EN: 348 (merger)</text></g>
<g id="en185"><rect class="y" x="858" y="697" width="87" height="16"/><text x="859" y="708.5">EN: 185 (merger)</text></g>
<g id="en357"><rect class="y" x="660" y="727.5" width="87" height="16"/><text x="661" y="739">EN: 357 (merger)</text></g>
<g id="en358"><rect class="y" x="813" y="727.5" width="41" height="16"/><text x="814" y="739">EN: 358</text></g>
<g id="en359"><rect class="y" x="813" y="762.5" width="41" height="16"/><text x="814" y="774">EN: 359</text></g>
<g id="en360"><rect class="y" x="874" y="792.5" width="41" height="16"/><text x="875" y="804">EN: 360</text></g>
<g id="en161"><rect class="y" x="380.5" y="421.5" width="41" height="16"/><text x="381.5" y="433">EN: 161</text></g>
<g id="en325"><rect class="y" x="432" y="421.5" width="41" height="16"/><text x="433" y="433">EN: 325</text></g>
<g id="en165"><rect class="y" x="380.5" y="453" width="41" height="16"/><text x="381.5" y="464.5">EN: 165</text></g>
<g id="en329"><rect class="y" x="432" y="453" width="41" height="16"/><text x="433" y="464.5">EN: 329</text></g>
<g id="en166"><rect class="y" x="380.5" y="488" width="41" height="16"/><text x="381.5" y="499.5">EN: 166</text></g>
<g id="en330"><rect class="y" x="432" y="488" width="41" height="16"/><text x="433" y="499.5">EN: 330</text></g>
<g id="en167"><rect class="y" x="490.5" y="453" width="41" height="16"/><text x="491.5" y="464.5">EN: 167</text></g>
<g id="en331"><rect class="y" x="541" y="453" width="41" height="16"/><text x="542" y="464.5">EN: 331</text></g>
<g id="en169"><rect class="y" x="490.5" y="488" width="41" height="16"/><text x="491.5" y="499.5">EN: 169</text></g>
<g id="en333"><rect class="y" x="541" y="488" width="41" height="16"/><text x="542" y="499.5">EN: 333</text></g>
<g id="en170"><rect class="y" x="490.5" y="523" width="41" height="16"/><text x="491.5" y="534.5">EN: 170</text></g>
<g id="en334"><rect class="y" x="541" y="523" width="41" height="16"/><text x="542" y="534.5">EN: 334</text></g>
<g id="en171"><rect class="y" x="380.5" y="557" width="41" height="16"/><text x="381.5" y="568.5">EN: 171</text></g>
<g id="en335"><rect class="y" x="432" y="557" width="41" height="16"/><text x="433" y="568.5">EN: 335</text></g>
<g id="en173"><rect class="y" x="380.5" y="592.5" width="41" height="16"/><text x="381.5" y="604">EN: 173</text></g>
<g id="en337"><rect class="y" x="432" y="592.5" width="41" height="16"/><text x="433" y="604">EN: 337</text></g>
<g id="en174"><rect class="y" x="380.5" y="626.5" width="41" height="16"/><text x="381.5" y="638">EN: 174</text></g>
<g id="en338"><rect class="y" x="432" y="626.5" width="41" height="16"/><text x="433" y="638">EN: 338</text></g>
<g id="en172"><rect class="y" x="490.5" y="557" width="41" height="16"/><text x="491.5" y="568.5">EN: 172</text></g>
<g id="en336"><rect class="y" x="541" y="557" width="41" height="16"/><text x="542" y="568.5">EN: 336</text></g>
<g id="en176"><rect class="y" x="490.5" y="592.5" width="41" height="16"/><text x="491.5" y="604">EN: 176</text></g>
<g id="en340"><rect class="y" x="541" y="592.5" width="41" height="16"/><text x="542" y="604">EN: 340</text></g>
<g id="en177"><rect class="y" x="490.5" y="626.5" width="41" height="16"/><text x="491.5" y="638">EN: 177</text></g>
<g id="en341"><rect class="y" x="541" y="626.5" width="41" height="16"/><text x="542" y="638">EN: 341</text></g>
<g id="en168"><rect class="y" x="96" y="523" width="41" height="16"/><text x="97" y="534.5">EN: 168</text></g>
<g id="en332"><rect class="y" x="159.5" y="523" width="41" height="16"/><text x="160.5" y="534.5">EN: 332</text></g>
<g id="en339"><rect class="y" x="212.5" y="523" width="41" height="16"/><text x="213.5" y="534.5">EN: 339</text></g>
<g id="en179"><rect class="y" x="60.5" y="557" width="87" height="16"/><text x="61.5" y="568.5">EN: 179 (merger)</text></g>
<g id="en175"><rect class="y" x="159.5" y="557" width="41" height="16"/><text x="160.5" y="568.5">EN: 175</text></g>
<g id="en343"><rect class="y" x="212.5" y="557" width="41" height="16"/><text x="213.5" y="568.5">EN: 343</text></g>
<g id="en180"><rect class="y" x="159.5" y="592.5" width="41" height="16"/><text x="160.5" y="604">EN: 180</text></g>
<g id="en344"><rect class="y" x="212.5" y="592.5" width="41" height="16"/><text x="213.5" y="604">EN: 344</text></g>
<g id="en181"><rect class="y" x="186" y="626.5" width="41" height="16"/><text x="187" y="638">EN: 181</text></g>
<g id="en345"><rect class="y" x="270.5" y="626.5" width="41" height="16"/><text x="271.5" y="638">EN: 345</text></g>
<g id="en182"><rect class="y" x="322" y="626.5" width="41" height="16"/><text x="323" y="638">EN: 182</text></g>
<g id="en349"><rect class="y" x="270.5" y="661.5" width="41" height="16"/><text x="271.5" y="673">EN: 349</text></g>
<g id="en186"><rect class="y" x="322" y="661.5" width="41" height="16"/><text x="323" y="673">EN: 186</text></g>
<g id="en350"><rect class="y" x="270.5" y="697" width="41" height="16"/><text x="271.5" y="708.5">EN: 350</text></g>
<g id="en187"><rect class="y" x="322" y="697" width="41" height="16"/><text x="323" y="708.5">EN: 187</text></g>
<g id="en351"><rect class="y" x="270.5" y="727.5" width="41" height="16"/><text x="271.5" y="739">EN: 351</text></g>
<g id="en188"><rect class="y" x="322" y="727.5" width="41" height="16"/><text x="323" y="739">EN: 188</text></g>
<g id="en283"><rect class="y" x="160" y="727.5" width="41" height="16"/><text x="161" y="739">EN: 283</text></g>
<g id="en115"><rect class="y" x="213" y="727.5" width="41" height="16"/><text x="214" y="739">EN: 115</text></g>
<g id="en307"><rect class="y" x="160" y="762.5" width="41" height="16"/><text x="161" y="774">EN: 307</text></g>
<g id="en142"><rect class="y" x="213" y="762.5" width="41" height="16"/><text x="214" y="774">EN: 142</text></g>
<g id="en308"><rect class="y" x="160" y="792.5" width="41" height="16"/><text x="161" y="804">EN: 308</text></g>
<g id="en143"><rect class="y" x="213" y="792.5" width="41" height="16"/><text x="214" y="804">EN: 143</text></g>
</g>

<g id="edge-labels">
<text x="1622" y="49.3">true (flags TRUE_VALUE)</text>
<text x="1798" y="39.3">true (flags TRUE_VALUE)</text>
<text x="1803" y="125.3">false (flags FALSE_VALUE)</text>
<text x="1885" y="125.3">(flags FALLTHRU)</text>
<text x="1747" y="135.3">(flags FALLTHRU)</text>
<text x="1947" y="131.3">false (flags FALSE_VALUE)</text>
<text x="1983" y="125.3">true (flags TRUE_VALUE)</text>
<text x="1608" y="186.3">true (flags TRUE_VALUE)</text>
<text x="1674" y="208.3">true (flags TRUE_VALUE)</text>
<text x="1973" y="221.3">true (flags TRUE_VALUE)</text>
<text x="1723" y="256.3">false (flags FALSE_VALUE)</text>
<text x="1803" y="262.3">(flags FALLTHRU)</text>
<text x="1949" y="256.3">false (flags FALSE_VALUE)</text>
<text x="1735" y="286.3">(flags FALLTHRU)</text>
<text x="1958" y="321.3">true (flags TRUE_VALUE)</text>
<text x="1650" y="327.3">(flags FALLTHRU)</text>
<text x="1330" y="386.3">false (flags FALSE_VALUE)</text>
<text x="1527" y="386.3">false (flags FALSE_VALUE)</text>
<text x="1600" y="400.3">false (flags FALSE_VALUE)</text>
<text x="1527" y="421.3">false (flags FALSE_VALUE)</text>
<text x="1455" y="443.3">false (flags FALSE_VALUE)</text>
<text x="1708" y="421.3">false (flags FALSE_VALUE)</text>
<text x="1285" y="487.3">false (flags FALSE_VALUE)</text>
<text x="1370" y="494.3">false (flags FALSE_VALUE)</text>
<text x="948" y="395.3">true (flags TRUE_VALUE)</text>
<text x="1007" y="407.3">true (flags TRUE_VALUE)</text>
<text x="1140" y="406.3">true (flags TRUE_VALUE)</text>
<text x="1207" y="406.3">true (flags TRUE_VALUE)</text>
<text x="969" y="488.3">false (flags FALSE_VALUE)</text>
<text x="1155" y="488.3">false (flags FALSE_VALUE)</text>
<text x="1217" y="494.3">true (flags TRUE_VALUE)</text>
<text x="972" y="523.3">false (flags FALSE_VALUE)</text>
<text x="1050" y="557.3">true (flags TRUE_VALUE)</text>
<text x="738" y="359.3">true (flags TRUE_VALUE)</text>
<text x="548" y="352.3">true (flags TRUE_VALUE)</text>
<text x="740" y="433.3">true (flags TRUE_VALUE)</text>
<text x="793" y="442.3">true (flags TRUE_VALUE)</text>
<text x="703" y="522.3">true (flags TRUE_VALUE)</text>
<text x="648" y="528.3">true (flags TRUE_VALUE)</text>
<text x="885" y="528.3">false (flags FALSE_VALUE)</text>
<text x="937" y="522.3">false (flags FALSE_VALUE)</text>
<text x="877" y="557.3">true (flags TRUE_VALUE)</text>
<text x="980" y="592.3">false (flags FALSE_VALUE)</text>
<text x="513" y="557.3">false (flags FALSE_VALUE)</text>
<text x="573" y="563.3">false (flags FALSE_VALUE)</text>
<text x="734" y="627.3">(flags FALLTHRU)</text>
<text x="824" y="627.3">(flags FALLTHRU)</text>
<text x="653" y="661.3">(flags FALLTHRU)</text>
<text x="733" y="696.3">(flags FALLTHRU)</text>
<text x="953" y="702.3">(flags FALLTHRU)</text>
<text x="525" y="661.3">(flags FALLTHRU)</text>
<text x="297" y="436.3">(flags FALLTHRU)</text>
<text x="349" y="442.3">(flags FALLTHRU)</text>
<text x="373" y="474.3">true (flags TRUE_VALUE)</text>
<text x="551" y="474.3">true (flags TRUE_VALUE)</text>
<text x="0" y="522.3">false (flags FALSE_VALUE)</text>
<text x="189" y="522.3">false (flags FALSE_VALUE)</text>
<text x="164" y="544.3">(flags FALLTHRU)</text>
<text x="112" y="578.3">(flags FALLTHRU)</text>
<text x="288" y="557.3">true (flags TRUE_VALUE)</text>
<text x="340" y="563.3">true (flags TRUE_VALUE)</text>
<text x="155" y="626.3">false (flags FALSE_VALUE)</text>
<text x="340" y="626.3">false (flags FALSE_VALUE)</text>
<text x="61" y="727.3">false (flags FALSE_VALUE)</text>
<text x="240" y="727.3">false (flags FALSE_VALUE)</text>
<text x="1127" y="591.3">(flags FALLTHRU)</text>
<text x="1185" y="591.3">false (flags FALSE_VALUE)</text>
<text x="1265" y="591.3">(flags FALLTHRU)</text>
<text x="1366" y="591.3">(flags FALLTHRU)</text>
<text x="1420" y="591.3">(flags FALLTHRU)</text>
<text x="1294" y="598.3">(flags FALLTHRU)</text>
<text x="1475" y="598.3">(flags FALLTHRU)</text>
<text x="1252" y="762.3">true (flags TRUE_VALUE)</text>
<text x="1430" y="762.3">true (flags TRUE_VALUE)</text>
<text x="1395" y="768.3">(flags FALLTHRU | DFS_BACK)</text>
<text x="1480" y="762.3">(flags FALLTHRU | DFS_BACK)</text>
<text x="1612" y="762.3">(flags FALLTHRU)</text>
<text x="1552" y="702.3">false (flags FALSE_VALUE)</text>
<text x="1604" y="696.3">false (flags FALSE_VALUE)</text>
<text x="1690" y="695.3">false (flags FALSE_VALUE)</text>
<text x="1712" y="702.3">false (flags FALSE_VALUE)</text>
<text x="1762" y="695.3">false (flags FALSE_VALUE)</text>
<text x="1855" y="695.3">true (flags TRUE_VALUE)</text>
<text x="1935" y="695.3">true (flags TRUE_VALUE)</text>
<text x="1967" y="702.3">true (flags TRUE_VALUE)</text>
</g>
<rect x="2042" y="0" width="13" height="1132" fill="#f5f3ec"/>
<rect x="0" y="0" width="2055" height="3" fill="#f5f3ec"/>
<rect x="0" y="1124" width="2055" height="8" fill="#f5f3ec"/>
</svg>
